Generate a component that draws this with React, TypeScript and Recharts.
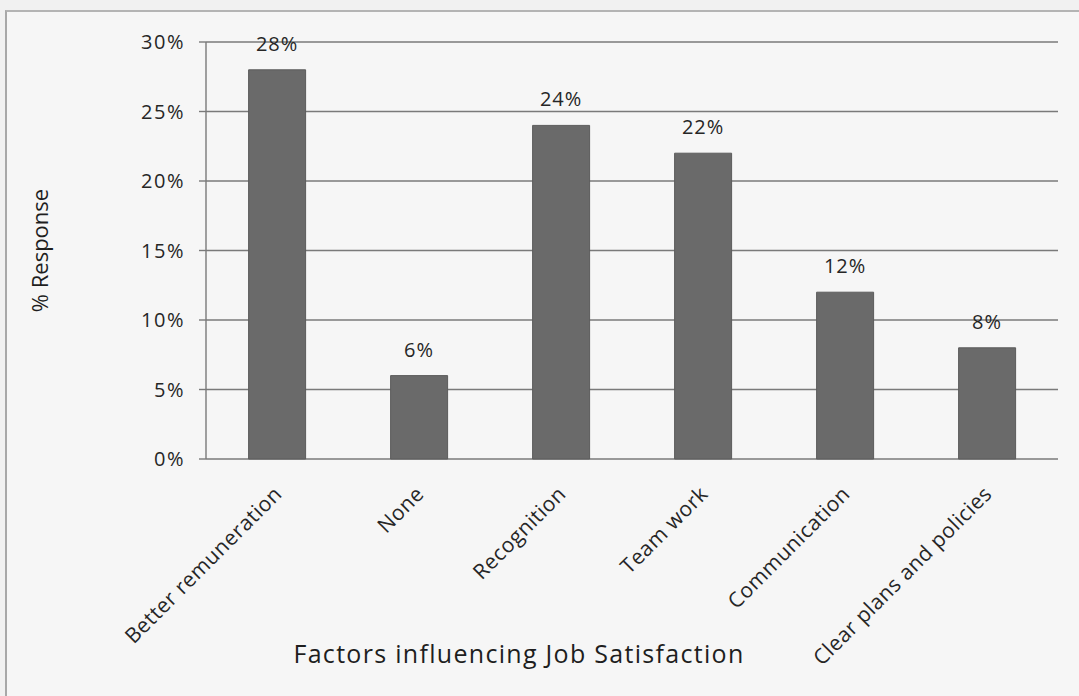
import React from 'react';
import { BarChart, Bar, XAxis, YAxis, CartesianGrid, LabelList, Label } from 'recharts';

const categories = ['Better remuneration', 'None', 'Recognition', 'Team work', 'Communication', 'Clear plans and policies'];
const responses = [0.28, 0.06, 0.24, 0.22, 0.12, 0.08];
const yTicks = [0, 0.05, 0.1, 0.15, 0.2, 0.25, 0.3];
const boundaryTicks = [0, 1, 2, 3, 4, 5, 6];

const data = categories.map((c, i) => ({ name: c, value: responses[i] }));

const FONT = '"Open Sans", sans-serif';
const TEXT = '#262626';
const LINE = '#7a7a7a';
const pct = (v: number) => `${Math.round(v * 100)}%`;

const RotTick = (props: any) => {
  const { x, y, payload } = props;
  return (
    <g transform={`translate(${x + 2},${y + 24})`}>
      <text transform="rotate(-45)" textAnchor="end" x={0} y={0} dy={6} fill={TEXT} fontSize={21} letterSpacing={0.5} fontFamily={FONT}>
        {payload.value}
      </text>
    </g>
  );
};

export default function App() {
  return (
    <div style={{ position: 'absolute', left: 0, top: 0, width: 1079, height: 696, background: '#f1f1f1', overflow: 'hidden' }}>
      <div style={{ position: 'absolute', left: 5, top: 10, width: 1074, height: 686, borderLeft: '2px solid #a8a8a8', borderTop: '2px solid #b4b4b4', background: '#f6f6f6' }} />
      <div style={{ position: 'absolute', left: 0, top: 0 }}>
        <BarChart width={1079} height={696} data={data} margin={{ top: 42, right: 21, bottom: 37, left: 0 }} barCategoryGap="30%">
          <CartesianGrid horizontal vertical={false} stroke={LINE} strokeWidth={1.4} />
          <XAxis
            xAxisId="b"
            type="number"
            domain={[0, 6]}
            ticks={boundaryTicks}
            height={0}
            tick={false}
            tickLine={{ stroke: LINE, strokeWidth: 1.4 }}
            tickSize={5}
            axisLine={{ stroke: LINE, strokeWidth: 1.4 }}
            allowDataOverflow
          />
          <XAxis
            dataKey="name"
            height={200}
            interval={0}
            tick={<RotTick />}
            tickLine={false}
            axisLine={false}
          >
            <Label value="Factors influencing Job Satisfaction" position="insideBottom" offset={-4} dx={-113} fill="#1e1e1e" fontSize={25} letterSpacing={1.3} fontFamily={FONT} />
          </XAxis>
          <YAxis
            width={206}
            domain={[0, 0.3]}
            ticks={yTicks}
            tickFormatter={pct}
            tick={{ fill: TEXT, fontSize: 20, fontFamily: FONT, letterSpacing: 1.5 }}
            tickSize={7}
            tickMargin={14}
            tickLine={{ stroke: LINE, strokeWidth: 1.4 }}
            axisLine={{ stroke: LINE, strokeWidth: 1.4 }}
          >
            <Label value="% Response" angle={-90} position="insideLeft" offset={40} fill="#1e1e1e" fontSize={22} fontFamily={FONT} style={{ textAnchor: 'middle' }} />
          </YAxis>
          <Bar dataKey="value" fill="#6a6a6a" stroke="#5c5c5c" isAnimationActive={false}>
            <LabelList dataKey="value" position="top" offset={19} formatter={(v: any) => pct(Number(v))} fill={TEXT} fontSize={20} letterSpacing={1} fontFamily={FONT} />
          </Bar>
        </BarChart>
      </div>
    </div>
  );
}
